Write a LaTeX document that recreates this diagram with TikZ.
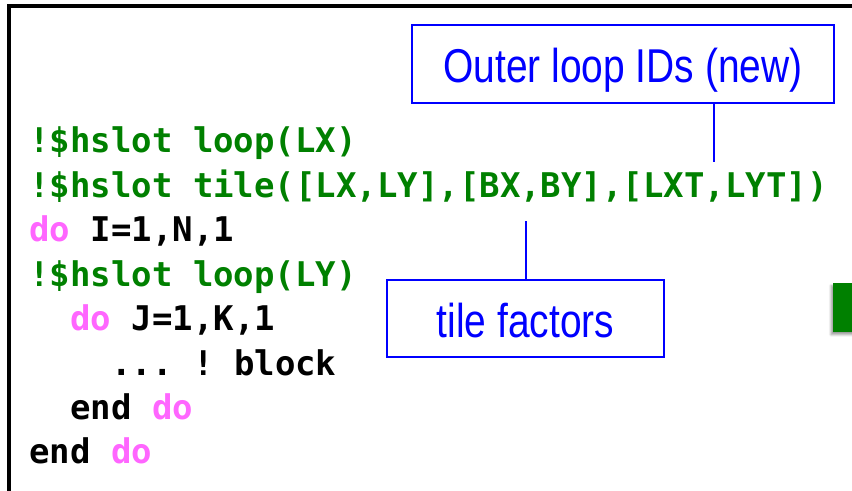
\documentclass[tikz,border=0pt]{standalone}
\usepackage{fontspec}
\setmonofont{DejaVu Sans Mono}
\newfontfamily\calloutfont[FakeStretch=0.82]{Liberation Sans}
\usetikzlibrary{shadows.blur}
\definecolor{dirgreen}{HTML}{008000}
\definecolor{kwpink}{HTML}{FF66FF}
\definecolor{callblue}{HTML}{0000FF}
\newcommand{\kw}[1]{\textcolor{kwpink}{#1}}
\newcommand{\dirv}[1]{\textcolor{dirgreen}{#1}}

\begin{document}
\begin{tikzpicture}[x=0.75pt,y=-0.75pt,
  codeline/.style={anchor=base west, inner sep=0pt,
    font=\ttfamily\bfseries\fontsize{25.5}{30}\selectfont},
  callout/.style={draw=callblue, line width=1.1pt, text=callblue, inner sep=0pt,
    text depth=15pt, font=\calloutfont\fontsize{35.6}{40}\selectfont},
  leader/.style={draw=callblue, line width=1.1pt}
]
\useasboundingbox (0,0) rectangle (852,491);
\clip (0,0) rectangle (852,491);

% slide frame, running off the right and bottom edges
\draw[line width=3pt] (9,600) -- (9,6) -- (900,6);

% green bar at the right edge
\fill[dirgreen, blur shadow={shadow xshift=-1.5pt, shadow yshift=-2pt, shadow blur steps=6, shadow opacity=40}]
  (833,283) rectangle (880,332);

% code listing
\def\cw{20.5}
\def\lh{44.4}
\node[codeline] (l1) at (29,153)              {\dirv{!\$hslot loop(LX)}};
\node[codeline] (l2) at (29,153+\lh)          {\dirv{!\$hslot tile([LX,LY],[BX,BY],[LXT,LYT])}};
\node[codeline] (l3) at (29,153+2*\lh)        {\kw{do} I=1,N,1};
\node[codeline] (l4) at (29,153+3*\lh)        {\dirv{!\$hslot loop(LY)}};
\node[codeline] (l5) at (29+2*\cw,153+4*\lh)  {\kw{do} J=1,K,1};
\node[codeline] (l6) at (29+4*\cw,153+5*\lh)  {... ! block};
\node[codeline] (l7) at (29+2*\cw,153+6*\lh)  {end \kw{do}};
\node[codeline] (l8) at (29,153+7*\lh)        {end \kw{do}};

% callouts
\node[callout, minimum width=316.5pt, text height=43.5pt] (outer) at (623,64) {Outer loop IDs (new)};
\node[callout, minimum width=207.75pt, text height=42.75pt] (tiles) at (525.5,318.5) {tile factors};

\coordinate (outerTip) at (714,162);
\coordinate (tilesTip) at (526,221);
\draw[leader] (outer.south -| outerTip) -- (outerTip);
\draw[leader] (tiles.north -| tilesTip) -- (tilesTip);
\end{tikzpicture}
\end{document}
